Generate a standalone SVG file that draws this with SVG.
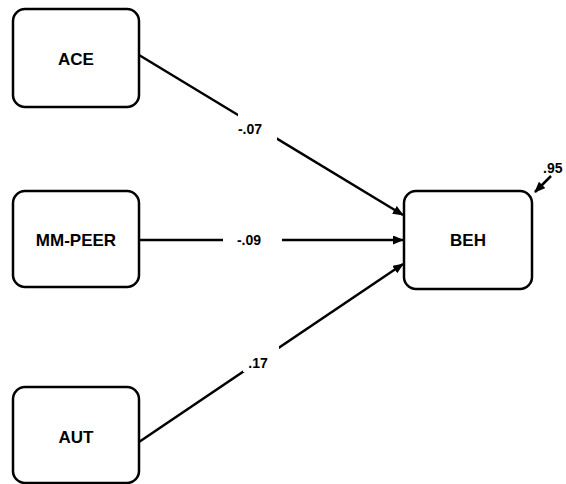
<svg xmlns="http://www.w3.org/2000/svg" width="566" height="484" viewBox="0 0 566 484">
<style>
.box{fill:#fff;stroke:#000;stroke-width:2.5}
.lbl{font-family:"Liberation Sans",Arial,sans-serif;font-weight:bold;font-size:17px;text-anchor:middle;fill:#000}
.coef{font-family:"Liberation Sans",Arial,sans-serif;font-weight:bold;font-size:14px;text-anchor:middle;fill:#000}
.edge{stroke:#000;stroke-width:2.5;fill:none}
</style>
<defs>
<marker id="ah" markerWidth="11" markerHeight="9" refX="10" refY="4.5" orient="auto" markerUnits="userSpaceOnUse" viewBox="0 0 11 9">
<path d="M0,0 L11,4.5 L0,9 z" fill="#000"/>
</marker>
</defs>
<g id="connectors">
<line class="edge" x1="139" y1="55" x2="403" y2="215" marker-end="url(#ah)"/>
<line class="edge" x1="139" y1="240" x2="403" y2="240" marker-end="url(#ah)"/>
<line class="edge" x1="139" y1="442" x2="403" y2="264" marker-end="url(#ah)"/>
<line class="edge" x1="551" y1="176" x2="535" y2="192" marker-end="url(#ah)"/>
<rect x="238" y="113" width="39" height="28" fill="#fff"/>
<rect x="223" y="230" width="59" height="20" fill="#fff"/>
<rect x="243" y="346" width="36" height="26" fill="#fff"/>
<text class="coef" x="250" y="134">-.07</text>
<text class="coef" x="249" y="245">-.09</text>
<text class="coef" x="258" y="368">.17</text>
<text class="coef" x="543" y="173" style="text-anchor:start">.95</text>
</g>
<g id="ACE"><rect class="box" x="13" y="9" width="126" height="98" rx="12"/><text class="lbl" x="76" y="65">ACE</text></g>
<g id="MM-PEER"><rect class="box" x="13" y="191" width="126" height="96" rx="12"/><text class="lbl" x="76" y="246">MM-PEER</text></g>
<g id="AUT"><rect class="box" x="13" y="387" width="126" height="96" rx="12"/><text class="lbl" x="76" y="443">AUT</text></g>
<g id="BEH"><rect class="box" x="404" y="191" width="128" height="98" rx="12"/><text class="lbl" x="468" y="246">BEH</text></g>
</svg>
